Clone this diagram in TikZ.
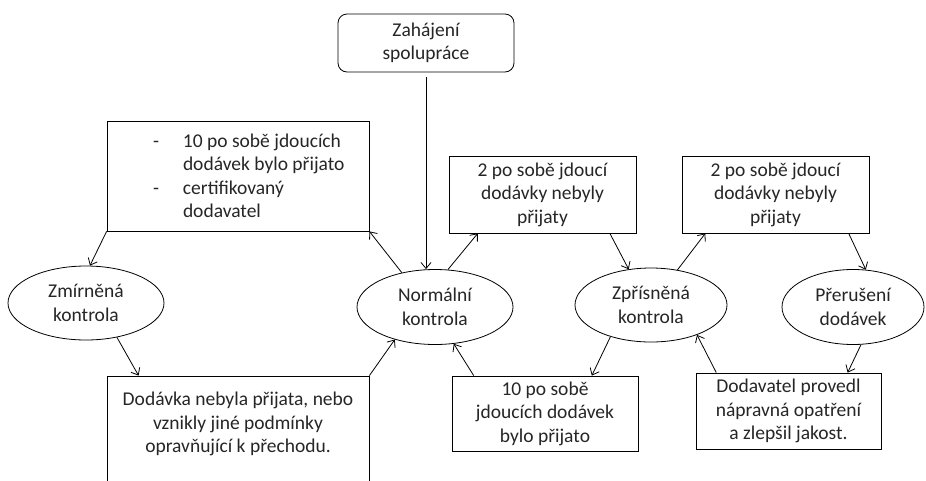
\documentclass[tikz,border=0pt]{standalone}
\usepackage{fontspec}
\setmainfont{Carlito}
\usetikzlibrary{shapes.geometric,arrows.meta}
\begin{document}
\begin{tikzpicture}[x=1pt,y=1pt,
  every node/.style={font=\fontsize{19.5}{23.5}\selectfont, text={black!85}},
  box/.style={draw, line width=0.8pt, inner sep=2pt, align=center},
  oval/.style={draw, ellipse, line width=0.8pt, inner sep=0pt, align=center},
  arr/.style={-{Straight Barb[length=6pt,width=10pt]}, line width=0.8pt}]
\clip (0,0) rectangle (926,-480);
\fill[white] (0,0) rectangle (926,-480);

\node[box, rounded corners=9pt, minimum width=176, minimum height=58] (start) at (426,-43) {Zahájení\\spolupráce};
\node[box, inner xsep=0pt, text width=262, minimum width=262, minimum height=110, align=flush left] (tl) at (238,-176)
  {\hspace*{46pt}\makebox[30pt][l]{-}10 po sobě jdoucích\\
   \hspace*{76pt}dodávek bylo přijato\\
   \hspace*{46pt}\makebox[30pt][l]{-}certifikovaný\\
   \hspace*{76pt}dodavatel};
\node[box, minimum width=187, minimum height=77] (box2) at (542.5,-194.5) {2 po sobě jdoucí\\dodávky nebyly\\přijaty};
\node[box, minimum width=187, minimum height=77] (box3) at (775.5,-194.5) {2 po sobě jdoucí\\dodávky nebyly\\přijaty};

\node[oval, minimum width=156, minimum height=74] (zmir) at (86,-303) {Zmírněná\\kontrola};
\node[oval, minimum width=156, minimum height=75] (norm) at (435,-307) {Normální\\kontrola};
\node[oval, minimum width=152, minimum height=74] (zpris) at (651,-305) {Zpřísněná\\kontrola};
\node[oval, minimum width=142, minimum height=75] (prer) at (853,-307) {Přerušení\\dodávek};

\node[box, inner sep=4pt, minimum width=262, minimum height=114] (dod) at (238,-433)
  {\parbox[c][106pt][t]{254pt}{\centering\vspace*{12pt}Dodávka nebyla přijata, nebo\\vznikly jiné podmínky\\opravňující k přechodu.}};
\node[box, minimum width=186, minimum height=75] (ten) at (545,-413.5) {10 po sobě\\jdoucích dodávek\\bylo přijato};
\node[box, minimum width=185, minimum height=76] (dodav) at (788.5,-411) {Dodavatel provedl\\nápravná opatření\\a zlepšil jakost.};

\draw[arr, shorten <=5pt] (start.south) -- (start.south |- norm.north);
\draw[arr] (norm.134) -- (tl.south east);
\draw[arr] (tl.south west) -- (zmir.84);
\draw[arr] (zmir.312) -- (dod.150.6);
\draw[arr] (dod.north east) -- (norm.219);
\draw[arr] (norm.71) -- (box2.211);
\draw[arr] (box2.330) -- (zpris.122);
\draw[arr] (zpris.53) -- (box3.209);
\draw[arr] (box3.332) -- (prer.71);
\draw[arr] (zpris.218) -- (ten.39);
\draw[arr] (ten.152) -- (norm.297);
\draw[arr] (dodav.152) -- (zpris.327);
\draw[arr] (prer.282) -- (dodav.33);
\end{tikzpicture}
\end{document}
